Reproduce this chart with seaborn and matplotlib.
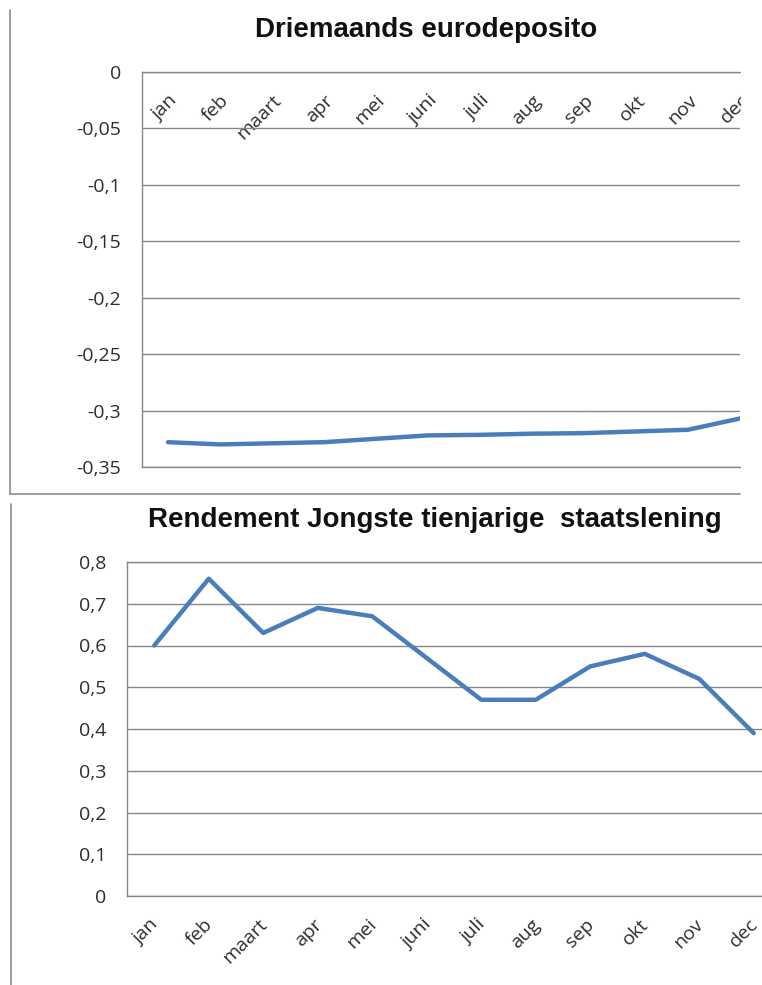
import matplotlib
matplotlib.use("Agg")
import matplotlib.pyplot as plt
from matplotlib.lines import Line2D
from matplotlib.patches import Rectangle
import matplotlib.transforms as mtransforms
import seaborn as sns
import pandas as pd

# Months shown on both category axes
months = ["jan", "feb", "maart", "apr", "mei", "juni",
          "juli", "aug", "sep", "okt", "nov", "dec"]

# Three-month euro deposit rate (%)
deposit = [-0.328, -0.330, -0.329, -0.328, -0.325, -0.322,
           -0.3215, -0.3205, -0.320, -0.3185, -0.317, -0.307]

# Yield on the most recent ten-year government bond (%)
bond_yield = [0.60, 0.76, 0.63, 0.69, 0.67, 0.57,
              0.47, 0.47, 0.55, 0.58, 0.52, 0.39]

top_ticks = [0, -0.05, -0.1, -0.15, -0.2, -0.25, -0.3, -0.35]
bottom_ticks = [0, 0.1, 0.2, 0.3, 0.4, 0.5, 0.6, 0.7, 0.8]

title_top = "Driemaands eurodeposito"
title_bottom = "Rendement Jongste tienjarige  staatslening"

LINE = "#4A7EBB"
GRID = "#878787"
FRAME = "#8C8C8C"
TEXT = "#2E2E2E"

sns.set_theme(style="white")
plt.rcParams["font.family"] = ["Open Sans", "DejaVu Sans"]

W, H = 762, 985
fig = plt.figure(figsize=(W / 100, H / 100), dpi=100)
fig.patch.set_facecolor("white")


def comma(v):
    s = f"{v:g}".replace(".", ",")
    return "0" if s in ("-0", "0") else s


def style_axes(ax, ticks):
    ax.set_facecolor("white")
    ax.set_yticks(ticks, [comma(t) for t in ticks])
    ax.grid(axis="y", color=GRID, linewidth=1.0)
    ax.grid(axis="x", visible=False)
    for side in ("left", "top", "bottom"):
        ax.spines[side].set_visible(True)
        ax.spines[side].set_color(GRID)
        ax.spines[side].set_linewidth(1.0)
    ax.spines["right"].set_visible(False)
    ax.tick_params(axis="y", length=0, pad=15, labelsize=14, labelcolor=TEXT)
    ax.set_xlabel("")
    ax.set_ylabel("")


def rotate_labels(ax, dx_pt=0.0):
    shift = mtransforms.ScaledTranslation(dx_pt / 72, 0, fig.dpi_scale_trans)
    for lbl in ax.get_xticklabels():
        lbl.set_ha("right")
        lbl.set_va("top")
        lbl.set_rotation_mode("anchor")
        if dx_pt:
            lbl.set_transform(lbl.get_transform() + shift)


# ---- upper chart: deposit rate, category labels hang below the zero line
ax1 = fig.add_axes([142 / W, 1 - 467 / H, 598 / W, 395 / H])
df1 = pd.DataFrame({"maand": months, "rente": deposit})
sns.lineplot(data=df1, x="maand", y="rente", sort=False, ax=ax1,
             color=LINE, linewidth=3.2)
ax1.set_ylim(-0.35, 0)
ax1.set_xlim(-0.5, 11.0)
style_axes(ax1, top_ticks)
ax1.set_xticks(range(len(months)), months)
ax1.xaxis.tick_top()
ax1.tick_params(axis="x", length=0, pad=-14, labelsize=14,
                labelcolor=TEXT, labelrotation=45)
rotate_labels(ax1)

# ---- lower chart: bond yield
ax2 = fig.add_axes([127 / W, 1 - 896 / H, 654 / W, 334 / H])
df2 = pd.DataFrame({"maand": months, "rendement": bond_yield})
sns.lineplot(data=df2, x="maand", y="rendement", sort=False, ax=ax2,
             color=LINE, linewidth=3.2)
ax2.set_ylim(0, 0.8)
ax2.set_xlim(-0.5, 11.5)
style_axes(ax2, bottom_ticks)
ax2.set_xticks(range(len(months)), months)
ax2.tick_params(axis="x", length=0, pad=14, labelsize=14,
                labelcolor=TEXT, labelrotation=45)
rotate_labels(ax2, dx_pt=-3.5)

# ---- titles
fig.text(426 / W, 1 - 37 / H, title_top, ha="center", va="baseline",
         fontsize=20, fontweight="bold", family="Liberation Sans",
         color="#111111")
fig.text(435 / W, 1 - 527 / H, title_bottom, ha="center", va="baseline",
         fontsize=20, fontweight="bold", family="Liberation Sans",
         color="#111111")

# ---- upper chart is cut off on the right edge
fig.add_artist(Rectangle((741 / W, 1 - 500 / H), 1 - 741 / W, 500 / H,
                         transform=fig.transFigure, facecolor="white",
                         edgecolor="none", zorder=10))

# ---- chart frames (left and bottom edges of the chart boxes)
frame_kw = dict(transform=fig.transFigure, color=FRAME, linewidth=1.2,
                zorder=11)
fig.add_artist(Line2D([10 / W, 10 / W], [1 - 10 / H, 1 - 494 / H], **frame_kw))
fig.add_artist(Line2D([10 / W, 740 / W], [1 - 494 / H, 1 - 494 / H], **frame_kw))
fig.add_artist(Line2D([11 / W, 11 / W], [1 - 504 / H, 0], **frame_kw))

fig.savefig("out.png", dpi=100, facecolor="white")
